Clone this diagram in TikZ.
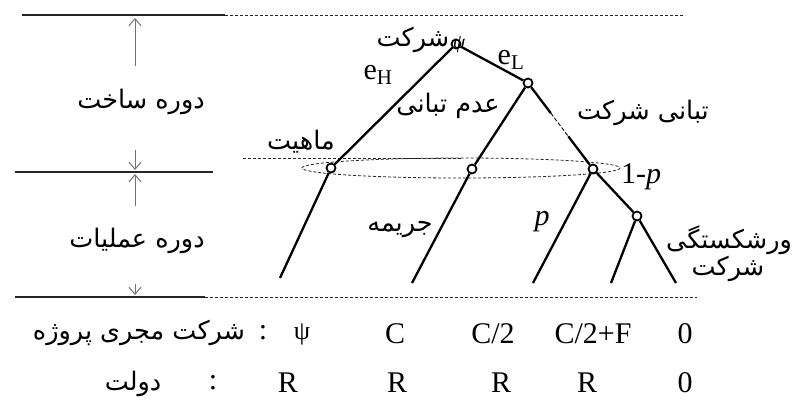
\documentclass[tikz,border=0pt]{standalone}
\usepackage{fontspec}
\setmainfont{Liberation Serif}
\newfontfamily\arabicfont[Script=Arabic]{DejaVu Sans}
\TeXXeTstate=1
\usetikzlibrary{arrows.meta,calc}
\newcommand{\rtl}[1]{\beginR #1\endR}
\begin{document}
\begin{tikzpicture}[x=1pt,y=-1pt,
  tree/.style={line width=2.3pt, black},
  thinedge/.style={line width=0.9pt, black, dash pattern=on 4pt off 2pt},
  dot/.style={circle, draw=black, line width=1.8pt, fill=white, inner sep=0pt, minimum size=9pt},
  rule/.style={line width=1.2pt, black!85},
  dline/.style={line width=0.8pt, black!85, dash pattern=on 3pt off 2pt},
  period/.style={-{Straight Barb[length=7pt,width=12pt]}, black!55, line width=1pt},
  ar/.style={font=\fontsize{25.5}{28}\arabicfont},
  lat/.style={font=\fontsize{30}{32}\selectfont},
  every node/.style={inner sep=0pt}
]
\useasboundingbox[fill=white] (0,0) rectangle (794,402);

% period rules
\coordinate (t1) at (22,15);  \coordinate (t2) at (225,15);  \coordinate (t3) at (685,15);
\coordinate (m1) at (15,172); \coordinate (m2) at (213,172);
\coordinate (b1) at (15,297); \coordinate (b2) at (205,297); \coordinate (b3) at (697,297);
\draw[rule] (t1) -- (t2);
\draw[dline] (t2) -- (t3);
\draw[rule] (m1) -- (m2);
\draw[rule] (b1) -- (b2);
\draw[dline] (b2) -- (b3);

% period arrows
\coordinate (a1s) at (135,66);  \coordinate (a1e) at (135,18);
\coordinate (a2s) at (135,150); \coordinate (a2e) at (135,170);
\coordinate (a3s) at (135,206); \coordinate (a3e) at (135,174);
\coordinate (a4s) at (135,284); \coordinate (a4e) at (135,295);
\draw[period] (a1s) -- (a1e);
\draw[period] (a2s) -- (a2e);
\draw[period] (a3s) -- (a3e);
\draw[period] (a4s) -- (a4e);

\node[ar] (build) at (141,102) {\rtl{دوره ساخت}};
\node[ar] (oper) at (137,241) {\rtl{دوره عملیات}};

% information set
\coordinate (is1) at (243,158); \coordinate (is2) at (461,158);
\draw[dline] (461,168) ellipse [x radius=159, y radius=10];
\draw[dline] (is1) -- (is2);

% tree
\node[dot] (r) at (456,44) {};
\node[dot] (l) at (528,83) {};
\node[dot] (h) at (331,168) {};
\node[dot] (m) at (472,169) {};
\node[dot] (c) at (593,169) {};
\node[dot] (b) at (637,216) {};
\coordinate (hl) at (280,278);
\coordinate (ml) at (412,283);
\coordinate (cl) at (533,283);
\coordinate (bl1) at (611,283);
\coordinate (bl2) at (676,283);

\draw[tree] (r) -- (h);
\draw[tree] (r) -- (l);
\draw[tree] (l) -- (m);
\draw[tree] (l) -- ($(l)!0.35!(c)$);
\draw[thinedge] ($(l)!0.35!(c)$) -- ($(l)!0.62!(c)$);
\draw[tree] ($(l)!0.62!(c)$) -- (c);
\draw[tree] (h) -- (hl);
\draw[tree] (m) -- (ml);
\draw[tree] (c) -- (cl);
\draw[tree] (c) -- (b);
\draw[tree] (b) -- (bl1);
\draw[tree] (b) -- (bl2);

% labels on tree
\node[ar] (firm) at (413,40) {\rtl{شرکت}};
\node[font=\fontsize{20}{22}\selectfont\itshape] (psi) at (459,45) {ψ};
\node[lat] (eH) at (378,75) {e\textsubscript{H}};
\node[lat] (eL) at (511,60) {e\textsubscript{L}};
\node[ar] (nocol) at (448,106) {\rtl{عدم تبانی}};
\node[ar] (col) at (643,113) {\rtl{تبانی شرکت}};
\node[ar] (nat) at (301,142) {\rtl{ماهیت}};
\node[lat] (q) at (641,177) {1-\textit{p}};
\node[ar] (fine) at (400,230) {\rtl{جریمه}};
\node[lat] (p) at (542,222) {\textit{p}};
\node[ar] (bk1) at (729,240) {\rtl{ورشکستگی}};
\node[ar] (bk2) at (728,269) {\rtl{شرکت}};

% payoffs
\node[ar] (row1) at (139,333) {\rtl{شرکت مجری پروژه}};
\node[lat] (c1a) at (263,333) {:};
\node[font=\fontsize{26}{28}\selectfont] (c1b) at (302,334) {ψ};
\node[lat] (c1c) at (395,334) {C};
\node[lat] (c1d) at (493,334) {C/2};
\node[lat] (c1e) at (593,334) {C/2+F};
\node[lat] (c1f) at (685,334) {0};

\node[ar] (row2) at (133,384) {\rtl{دولت}};
\node[lat] (c2a) at (213,383) {:};
\node[lat] (c2b) at (288,383) {R};
\node[lat] (c2c) at (397,383) {R};
\node[lat] (c2d) at (501,383) {R};
\node[lat] (c2e) at (587,383) {R};
\node[lat] (c2f) at (685,383) {0};
\end{tikzpicture}
\end{document}
